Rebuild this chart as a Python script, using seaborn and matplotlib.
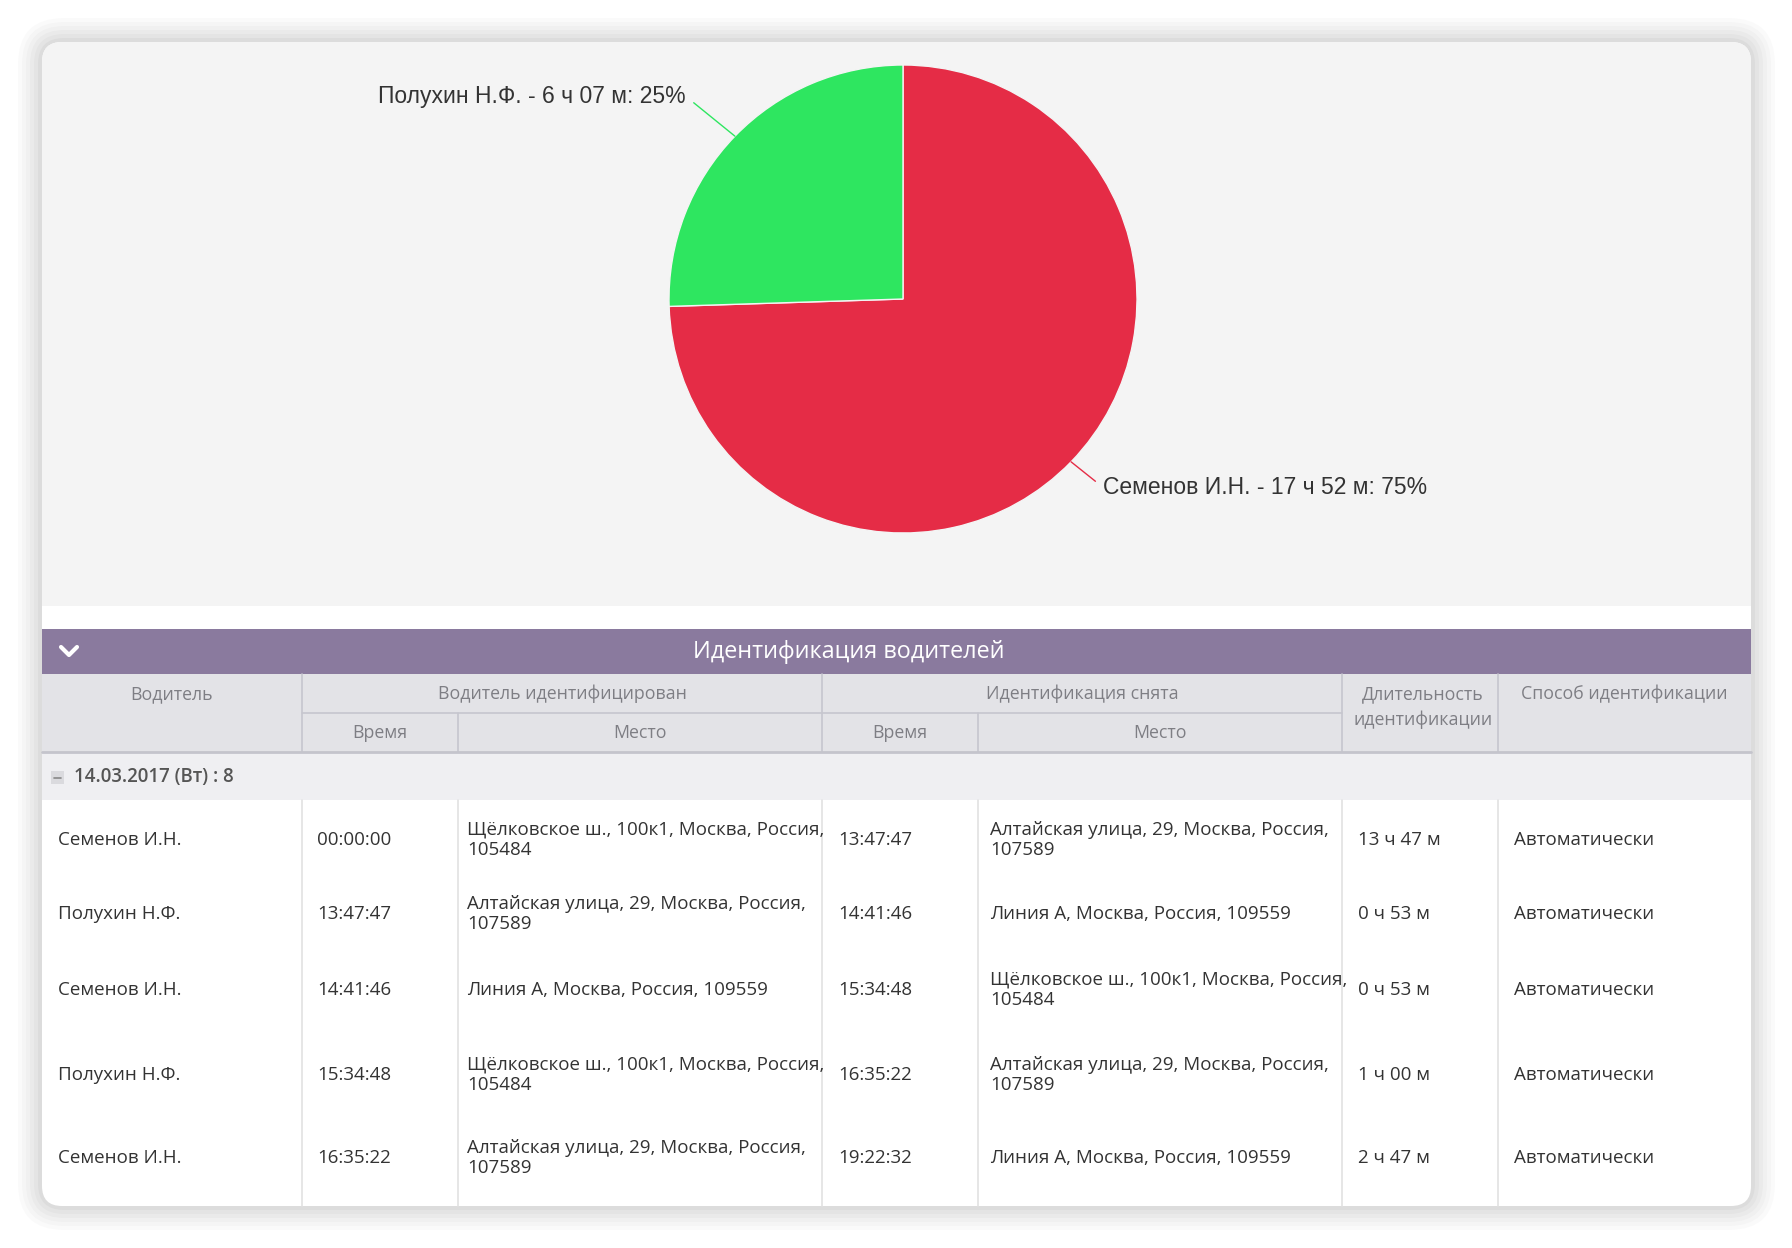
import matplotlib
matplotlib.use("Agg")
import numpy as np
import matplotlib.pyplot as plt
import seaborn as sns
from matplotlib.patches import FancyBboxPatch, Rectangle
from matplotlib import font_manager

# --- data ---
drivers = ["Семенов И.Н.", "Полухин Н.Ф."]
drive_minutes = [1072, 367]
drive_labels = ["17 ч 52 м", "6 ч 07 м"]
drive_percent = [75, 25]
slice_colors = ["#e52c46", "#2ee660"]

table_title = "Идентификация водителей"
group_label = "14.03.2017 (Вт) : 8"
row_driver = ["Семенов И.Н.", "Полухин Н.Ф.", "Семенов И.Н.", "Полухин Н.Ф.", "Семенов И.Н."]
row_start_time = ["00:00:00", "13:47:47", "14:41:46", "15:34:48", "16:35:22"]
row_start_place = [
    "Щёлковское ш., 100к1, Москва, Россия,\n105484",
    "Алтайская улица, 29, Москва, Россия,\n107589",
    "Линия А, Москва, Россия, 109559",
    "Щёлковское ш., 100к1, Москва, Россия,\n105484",
    "Алтайская улица, 29, Москва, Россия,\n107589",
]
row_end_time = ["13:47:47", "14:41:46", "15:34:48", "16:35:22", "19:22:32"]
row_end_place = [
    "Алтайская улица, 29, Москва, Россия,\n107589",
    "Линия А, Москва, Россия, 109559",
    "Щёлковское ш., 100к1, Москва, Россия,\n105484",
    "Алтайская улица, 29, Москва, Россия,\n107589",
    "Линия А, Москва, Россия, 109559",
]
row_duration = ["13 ч 47 м", "0 ч 53 м", "0 ч 53 м", "1 ч 00 м", "2 ч 47 м"]
row_method = ["Автоматически"] * 5

# --- layout (pixels) ---
W, H = 1792, 1248
col_x = [42, 302, 458, 822, 978, 1342, 1498, 1751]
row_y = [840, 914, 990, 1075, 1158]
text_pad = [16, 15, 9, 16, 12, 16, 16]

sns.set_theme(style="white")
names = {f.name for f in font_manager.fontManager.ttflist}
label_font = ["Liberation Sans Narrow"] if "Liberation Sans Narrow" in names else ["Liberation Sans"]
table_font = ["Open Sans", "DejaVu Sans"]
plt.rcParams["font.family"] = table_font

fig = plt.figure(figsize=(W / 100, H / 100), dpi=100)
fig.patch.set_facecolor("white")
bg = fig.add_axes([0, 0, 1, 1])
bg.set_xlim(0, W)
bg.set_ylim(H, 0)
bg.axis("off")

# card shadow
for i, a in enumerate([0.018, 0.018, 0.02, 0.022, 0.025, 0.03]):
    p = 24 - i * 4
    bg.add_patch(FancyBboxPatch((42 - p, 42 - p), 1709 + 2 * p, 1164 + 2 * p,
                                boxstyle=f"round,pad=0,rounding_size={22 + p}",
                                fc="black", ec="none", alpha=a, zorder=0))
bg.add_patch(FancyBboxPatch((42, 42), 1709, 1164, boxstyle="round,pad=0,rounding_size=20",
                            fc="white", ec="none", zorder=1))
bg.add_patch(FancyBboxPatch((42, 42), 1709, 564, boxstyle="round,pad=0,rounding_size=20",
                            fc="#f4f4f4", ec="none", zorder=2))
bg.add_patch(Rectangle((42, 300), 1709, 306, fc="#f4f4f4", ec="none", zorder=2))

# table title bar
bg.add_patch(Rectangle((42, 629), 1709, 45, fc="#8a7a9e", ec="none", zorder=2))
bg.plot([61, 69, 77], [647, 655, 647], color="white", lw=3, solid_capstyle="round", zorder=3)
bg.text(849, 652, table_title, color="white", fontsize=16.8, ha="center", va="center", zorder=3)

# header
bg.add_patch(Rectangle((42, 674), 1709, 78, fc="#e3e3e7", ec="none", zorder=2))
line_c = "#c6c6ce"
bg.plot([302, 1342], [713, 713], color=line_c, lw=1.2, zorder=3)
for x in [302, 822, 1342, 1498]:
    bg.plot([x, x], [674, 752], color=line_c, lw=1.2, zorder=3)
for x in [458, 978]:
    bg.plot([x, x], [713, 752], color=line_c, lw=1.2, zorder=3)
bg.plot([42, 1751], [752, 752], color="#c4c4cc", lw=2, zorder=3)

hc = "#7e7e84"
hfs = 12.8
bg.text((col_x[0] + col_x[1]) / 2, 694, "Водитель", color=hc, fontsize=hfs, ha="center", va="center", zorder=3)
bg.text((col_x[1] + col_x[3]) / 2, 694, "Водитель идентифицирован", color=hc, fontsize=hfs, ha="center", va="center", zorder=3)
bg.text((col_x[3] + col_x[5]) / 2, 694, "Идентификация снята", color=hc, fontsize=hfs, ha="center", va="center", zorder=3)
for c, t in [(1, "Время"), (2, "Место"), (3, "Время"), (4, "Место")]:
    bg.text((col_x[c] + col_x[c + 1]) / 2, 733, t, color=hc, fontsize=hfs, ha="center", va="center", zorder=3)
bg.text((col_x[5] + col_x[6]) / 2 + 3, 707, "Длительность\nидентификации", color=hc, fontsize=hfs,
        ha="center", va="center", linespacing=1.45, zorder=3)
bg.text((col_x[6] + col_x[7]) / 2, 694, "Способ идентификации", color=hc, fontsize=hfs, ha="center", va="center", zorder=3)

# group row
bg.add_patch(Rectangle((42, 753), 1709, 47, fc="#efeff2", ec="none", zorder=2))
bg.add_patch(Rectangle((51, 771), 13, 13, fc="#dadade", ec="none", zorder=3))
bg.plot([54, 61], [777.5, 777.5], color="#888888", lw=1.2, zorder=4)
bg.text(74, 777, group_label, color="#555555", fontsize=13.4, fontweight="semibold", ha="left", va="center", zorder=3)

# data rows
for x in col_x[1:-1]:
    bg.plot([x, x], [800, 1206], color="#e2e2e2", lw=1.2, zorder=3)
columns = [row_driver, row_start_time, row_start_place, row_end_time, row_end_place, row_duration, row_method]
for c, values in enumerate(columns):
    for r, val in enumerate(values):
        bg.text(col_x[c] + text_pad[c], row_y[r], val, color="#333333", fontsize=13.5,
                ha="left", va="center", linespacing=1.15, zorder=3)

# pie
cx, cy, rad = 903, 299, 234
pie_ax = fig.add_axes([(cx - rad) / W, 1 - (cy + rad) / H, 2 * rad / W, 2 * rad / H])
pie_ax.set_facecolor("none")
wedges, _ = pie_ax.pie(drive_minutes, colors=sns.color_palette(slice_colors), startangle=90,
                       counterclock=False, wedgeprops=dict(edgecolor="#f4f4f4", linewidth=1))
pie_ax.set_xlim(-1, 1)
pie_ax.set_ylim(-1, 1)
pie_ax.set_aspect("equal")
for w, name, lab, pct, col in zip(wedges, drivers, drive_labels, drive_percent, slice_colors):
    mid = np.deg2rad((w.theta1 + w.theta2) / 2)
    ex, ey = np.cos(mid), np.sin(mid)
    right = ex > 0
    tx = ex * 1.2 + (-0.007 if right else -0.065)
    ty = ey * 1.2 + 0.03
    pie_ax.annotate(f"{name} - {lab}: {pct}%", xy=(ex, ey), xytext=(tx, ty),
                    ha="left" if right else "right", va="center", fontsize=16.5,
                    family=label_font, color="#333333", annotation_clip=False,
                    arrowprops=dict(arrowstyle="-", color=col, lw=1, shrinkA=4, shrinkB=0,
                                    relpos=(0, 0.5) if right else (1, 0.5)))

fig.savefig("out.png", dpi=100, facecolor="white")
